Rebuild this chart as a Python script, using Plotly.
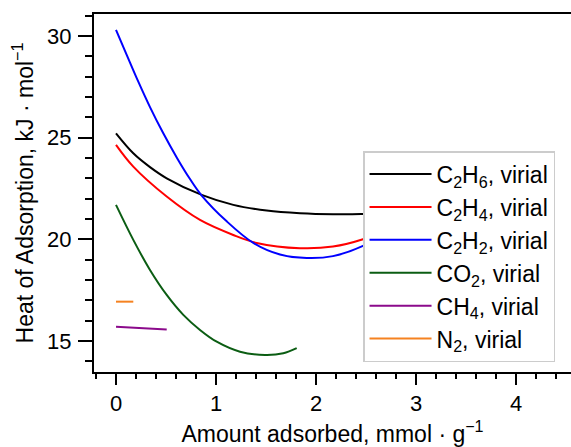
import plotly.graph_objects as go

# ---- data ----
c2h6_x = [0.0, 0.173, 0.34, 0.507, 0.857, 1.173, 1.507, 1.84, 2.17, 2.45, 2.75]
c2h6_y = [25.21, 24.23, 23.55, 23.00, 22.18, 21.69, 21.41, 21.28, 21.23, 21.24, 21.32]

c2h4_x = [0.0, 0.173, 0.507, 0.84, 1.173, 1.407, 1.84, 2.17, 2.47, 2.75]
c2h4_y = [24.64, 23.57, 22.10, 20.95, 20.21, 19.82, 19.56, 19.64, 20.00, 20.55]

c2h2_x = [0.0, 0.107, 0.223, 0.34, 0.473, 0.61, 0.74, 0.857, 1.107, 1.373, 1.64, 1.907, 2.17, 2.47, 2.75]
c2h2_y = [30.30, 29.07, 27.75, 26.50, 25.21, 24.00, 22.96, 22.15, 20.88, 19.82, 19.25, 19.08, 19.17, 19.67, 20.50]

co2_x = [0.0, 0.173, 0.34, 0.507, 0.673, 0.84, 1.007, 1.24, 1.49, 1.673, 1.807]
co2_y = [21.69, 19.97, 18.49, 17.26, 16.28, 15.54, 14.96, 14.47, 14.31, 14.39, 14.64]

ch4_x = [0.0, 0.507]
ch4_y = [15.69, 15.56]

n2_x = [0.0, 0.173]
n2_y = [16.93, 16.93]

labels = [
    "C<sub>2</sub>H<sub>6</sub>, virial",
    "C<sub>2</sub>H<sub>4</sub>, virial",
    "C<sub>2</sub>H<sub>2</sub>, virial",
    "CO<sub>2</sub>, virial",
    "CH<sub>4</sub>, virial",
    "N<sub>2</sub>, virial",
]
colors = ["#000000", "#ff0000", "#0000ff", "#0b5d13", "#8b0a8b", "#f58220"]

x_ticks = [0, 1, 2, 3, 4]
y_ticks = [15, 20, 25, 30]

series = [
    (c2h6_x, c2h6_y), (c2h4_x, c2h4_y), (c2h2_x, c2h2_y),
    (co2_x, co2_y), (ch4_x, ch4_y), (n2_x, n2_y),
]

FONT = "Liberation Sans, Arial, sans-serif"

fig = go.Figure()
for (xs, ys), name, col in zip(series, labels, colors):
    fig.add_trace(go.Scatter(
        x=xs, y=ys, mode="lines", name=name,
        line=dict(color=col, width=2, shape="spline", smoothing=1.0),
    ))

fig.update_layout(
    width=571, height=447,
    margin=dict(l=94, r=0, t=14, b=75),
    paper_bgcolor="white", plot_bgcolor="white",
    font=dict(family=FONT, size=22, color="black"),
    showlegend=True,
    legend=dict(
        x=0.564, y=0.617, xanchor="left", yanchor="top",
        bgcolor="white", bordercolor="#cccccc", borderwidth=1.5,
        itemwidth=62,
        font=dict(family=FONT, size=23, color="black"),
    ),
    xaxis=dict(
        range=[-0.22, 4.55], showgrid=False, zeroline=False,
        showline=True, linecolor="black", linewidth=2, mirror=True,
        tickmode="array", tickvals=x_ticks, ticktext=[str(v) for v in x_ticks],
        ticks="outside", ticklen=11, tickwidth=2, tickcolor="black",
        tickfont=dict(size=22),
        minor=dict(dtick=0.2, tick0=0, ticks="outside", ticklen=5, tickwidth=1.5, tickcolor="black"),
        title=dict(text="Amount adsorbed, mmol · g<sup>−1</sup>", font=dict(size=23), standoff=12),
    ),
    yaxis=dict(
        range=[13.47, 31.08], showgrid=False, zeroline=False,
        showline=True, linecolor="black", linewidth=2, mirror=False,
        tickmode="array", tickvals=y_ticks, ticktext=[str(v) for v in y_ticks],
        ticks="outside", ticklen=14, tickwidth=2, tickcolor="black",
        ticklabelstandoff=2,
        tickfont=dict(size=22),
        minor=dict(dtick=1, tick0=0, ticks="outside", ticklen=7, tickwidth=1.5, tickcolor="black"),
        title=dict(text="Heat of Adsorption, kJ · mol<sup>−1</sup>", font=dict(size=23), standoff=7),
    ),
)

fig.write_html("out.html")
